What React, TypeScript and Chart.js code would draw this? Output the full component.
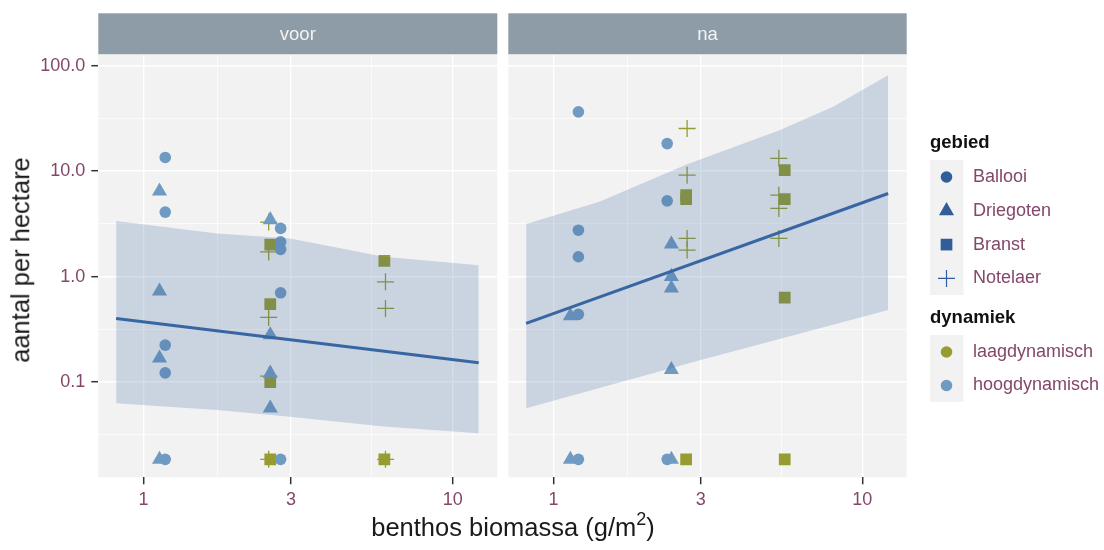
import React, { useEffect, useRef } from 'react';
import { Chart, registerables } from 'chart.js';

Chart.register(...registerables);

const FONT = "'Liberation Sans', Arial, Helvetica, sans-serif";

// Facet titles
const facetLabels = ['voor', 'na'];

// Axis breaks and limits (log10 axes)
const xMajor = [1, 3, 10];
const xMinor = [1.74, 5.48];
const yMajor = [0.1, 1, 10, 100];
const yMajorLabels = ['0.1', '1.0', '10.0', '100.0'];
const yMinor = [0.0316, 0.316, 3.16, 31.6];
const xLimits = [0.7145, 13.93];
const yLimits = [0.0125, 125.9];

// Legend entries
const gebiedLabels = ['Ballooi', 'Driegoten', 'Branst', 'Notelaer'];
const dynamiekLabels = ['laagdynamisch', 'hoogdynamisch'];

// Observations, period "voor"
const voorBallooiX = [1.176, 1.176, 1.176, 1.176, 1.176, 2.776, 2.776, 2.776, 2.776, 2.776];
const voorBallooiY = [13.45, 4.08, 0.224, 0.122, 0.0185, 2.86, 2.13, 1.81, 0.701, 0.0185];
const voorDriegotenX = [1.127, 1.127, 1.127, 1.127, 2.57, 2.57, 2.57, 2.57];
const voorDriegotenY = [6.44, 0.728, 0.168, 0.0185, 3.45, 0.28, 0.121, 0.0565];
const voorBranstX = [2.57, 2.57, 2.57, 2.57, 6.01, 6.01];
const voorBranstY = [2.01, 0.548, 0.1, 0.0185, 1.41, 0.0185];
const voorNotelaerX = [2.54, 2.54, 2.54, 2.54, 2.54, 6.06, 6.06, 6.06];
const voorNotelaerY = [3.28, 1.71, 0.41, 0.114, 0.0185, 0.891, 0.499, 0.0185];

// Observations, period "na"
const naBallooiX = [1.205, 1.205, 1.205, 1.205, 1.205, 2.336, 2.336, 2.336];
const naBallooiY = [36.4, 2.75, 1.54, 0.438, 0.0185, 18.2, 5.22, 0.0185];
const naDriegotenX = [1.135, 1.135, 2.41, 2.41, 2.41, 2.41, 2.41];
const naDriegotenY = [0.424, 0.0185, 2.03, 1.0, 0.774, 0.131, 0.0185];
const naBranstX = [2.69, 2.69, 2.69, 5.61, 5.61, 5.61, 5.61];
const naBranstY = [5.91, 5.42, 0.0185, 10.2, 5.42, 0.63, 0.0185];
const naNotelaerX = [2.71, 2.71, 2.71, 2.71, 5.37, 5.37, 5.37, 5.37];
const naNotelaerY = [25.3, 9.14, 2.3, 1.78, 13.2, 5.91, 4.42, 2.3];

// Fitted trend with confidence band
const fitX = [0.816, 12.13];
const voorFitY = [0.401, 0.1525];
const naFitY = [0.36, 6.13];
const voorBandUpperX = [0.816, 1.73, 2.98, 5.98, 12.13];
const voorBandUpperY = [3.37, 2.56, 2.3, 1.54, 1.28];
const voorBandLowerX = [0.816, 1.73, 2.98, 5.98, 12.13];
const voorBandLowerY = [0.0628, 0.0543, 0.0469, 0.0378, 0.0327];
const naBandUpperX = [0.816, 1.41, 2.71, 5.4, 8.04, 12.13];
const naBandUpperY = [3.14, 5.11, 11.6, 24.4, 40.6, 80.9];
const naBandLowerX = [0.816, 3.0, 12.13];
const naBandLowerY = [0.0564, 0.1616, 0.481];

// Colours
const LAAG = '#979C31';
const HOOG = '#6F9BC2';
const FIT = '#3766A3';
const BAND = 'rgba(58,100,160,0.22)';
const KEY = '#2F5E99';
const LABEL = '#84466A';
const PANEL = '#F2F2F2';
const STRIP = '#8D9CA7';

const pts = (xs: number[], ys: number[]) => xs.map((x, i) => ({ x, y: ys[i] }));

const markerStyle: Record<string, any> = {
  Ballooi: { pointStyle: 'circle', pointRadius: 5.8, borderWidth: 0 },
  Driegoten: { pointStyle: 'triangle', pointRadius: 8.7, borderWidth: 0 },
  Branst: { pointStyle: 'rect', pointRadius: 8.3, borderWidth: 0 },
  Notelaer: { pointStyle: 'cross', pointRadius: 8.5, borderWidth: 1.3 },
};
const gebiedColour: Record<string, string> = {
  Ballooi: HOOG,
  Driegoten: HOOG,
  Branst: LAAG,
  Notelaer: LAAG,
};

function drawMarker(ctx: CanvasRenderingContext2D, kind: string, x: number, y: number, colour: string) {
  ctx.save();
  ctx.fillStyle = colour;
  ctx.strokeStyle = colour;
  ctx.beginPath();
  if (kind === 'circle') {
    ctx.arc(x, y, 5.8, 0, Math.PI * 2);
    ctx.fill();
  } else if (kind === 'triangle') {
    const r = 8.7;
    ctx.moveTo(x, y - r);
    ctx.lineTo(x + r * Math.sin((2 * Math.PI) / 3), y - r * Math.cos((2 * Math.PI) / 3));
    ctx.lineTo(x + r * Math.sin((4 * Math.PI) / 3), y - r * Math.cos((4 * Math.PI) / 3));
    ctx.closePath();
    ctx.fill();
  } else if (kind === 'rect') {
    ctx.rect(x - 5.85, y - 5.85, 11.7, 11.7);
    ctx.fill();
  } else {
    ctx.lineWidth = 1.2;
    ctx.moveTo(x - 8.5, y);
    ctx.lineTo(x + 8.5, y);
    ctx.moveTo(x, y - 8.5);
    ctx.lineTo(x, y + 8.5);
    ctx.stroke();
  }
  ctx.restore();
}

const panelPlugin = {
  id: 'facetPanel',
  beforeDraw(chart: any, _args: any, opts: any) {
    const { ctx, chartArea: a } = chart;
    ctx.save();
    ctx.fillStyle = PANEL;
    ctx.fillRect(a.left, a.top, a.right - a.left, a.bottom - a.top);
    ctx.fillStyle = STRIP;
    ctx.fillRect(a.left, 13.3, a.right - a.left, a.top - 13.3 - 0.7);
    ctx.fillStyle = '#F3F3F3';
    ctx.font = `18.5px ${FONT}`;
    ctx.textAlign = 'center';
    ctx.textBaseline = 'middle';
    ctx.fillText(opts.label, (a.left + a.right) / 2, 35);
    ctx.restore();
  },
};

const legendPlugin = {
  id: 'guideLegend',
  afterDraw(chart: any) {
    const ctx: CanvasRenderingContext2D = chart.ctx;
    const kinds = ['circle', 'triangle', 'rect', 'cross'];
    ctx.save();
    ctx.textAlign = 'left';
    ctx.textBaseline = 'middle';
    ctx.fillStyle = '#111111';
    ctx.font = `bold 18.5px ${FONT}`;
    ctx.fillText('gebied', 930, 143);
    ctx.fillText('dynamiek', 930, 318);
    ctx.fillStyle = PANEL;
    ctx.fillRect(930, 160, 33.5, 135);
    ctx.fillRect(930, 335, 33.5, 67);
    ctx.font = `18px ${FONT}`;
    gebiedLabels.forEach((lab, i) => {
      const y = 177 + i * 33.8;
      drawMarker(ctx, kinds[i], 946.5, y, KEY);
      ctx.fillStyle = LABEL;
      ctx.fillText(lab, 973, y);
    });
    dynamiekLabels.forEach((lab, i) => {
      const y = 352 + i * 33.5;
      drawMarker(ctx, 'circle', 946.5, y, i === 0 ? LAAG : HOOG);
      ctx.fillStyle = LABEL;
      ctx.fillText(lab, 973, y);
    });
    ctx.restore();
  },
};

type PanelData = {
  label: string;
  series: Record<string, [number[], number[]]>;
  fitY: number[];
  upper: [number[], number[]];
  lower: [number[], number[]];
};

const panels: PanelData[] = [
  {
    label: facetLabels[0],
    series: {
      Ballooi: [voorBallooiX, voorBallooiY],
      Driegoten: [voorDriegotenX, voorDriegotenY],
      Branst: [voorBranstX, voorBranstY],
      Notelaer: [voorNotelaerX, voorNotelaerY],
    },
    fitY: voorFitY,
    upper: [voorBandUpperX, voorBandUpperY],
    lower: [voorBandLowerX, voorBandLowerY],
  },
  {
    label: facetLabels[1],
    series: {
      Ballooi: [naBallooiX, naBallooiY],
      Driegoten: [naDriegotenX, naDriegotenY],
      Branst: [naBranstX, naBranstY],
      Notelaer: [naNotelaerX, naNotelaerY],
    },
    fitY: naFitY,
    upper: [naBandUpperX, naBandUpperY],
    lower: [naBandLowerX, naBandLowerY],
  },
];

function buildConfig(index: number): any {
  const p = panels[index];
  const isLeft = index === 0;
  const datasets: any[] = [
    {
      type: 'line',
      data: pts(fitX, p.fitY),
      borderColor: FIT,
      borderWidth: 3,
      pointRadius: 0,
      fill: false,
      order: 0,
    },
    {
      type: 'line',
      data: pts(p.upper[0], p.upper[1]),
      borderColor: 'transparent',
      borderWidth: 0,
      backgroundColor: BAND,
      pointRadius: 0,
      fill: '+1',
      order: 1,
    },
    {
      type: 'line',
      data: pts(p.lower[0], p.lower[1]),
      borderColor: 'transparent',
      borderWidth: 0,
      pointRadius: 0,
      fill: false,
      order: 2,
    },
  ];
  gebiedLabels.forEach((g, i) => {
    const [xs, ys] = p.series[g];
    const colour = gebiedColour[g];
    datasets.push({
      type: 'scatter',
      label: g,
      data: pts(xs, ys),
      backgroundColor: colour,
      borderColor: colour,
      ...markerStyle[g],
      order: 3 + i,
    });
  });

  const xTickValues = [...xMajor, ...xMinor].sort((a, b) => a - b);
  const yTickValues = [...yMajor, ...yMinor].sort((a, b) => a - b);

  return {
    type: 'scatter',
    data: { datasets },
    plugins: isLeft ? [panelPlugin] : [panelPlugin, legendPlugin],
    options: {
      animation: false,
      responsive: false,
      devicePixelRatio: 1,
      events: [],
      layout: {
        padding: isLeft
          ? { left: 0, right: 1104 - 497.3, top: 55, bottom: 0 }
          : { left: 508.3, right: 1104 - 906.7, top: 55, bottom: 0 },
      },
      plugins: {
        legend: { display: false },
        tooltip: { enabled: false },
        facetPanel: { label: p.label },
      },
      scales: {
        x: {
          type: 'logarithmic',
          position: 'bottom',
          min: xLimits[0],
          max: xLimits[1],
          bounds: 'data',
          afterBuildTicks: (s: any) => {
            s.ticks = xTickValues.map((v) => ({ value: v }));
          },
          afterFit: (s: any) => {
            s.height = 550 - 477.3;
          },
          border: { display: false },
          grid: {
            color: '#FFFFFF',
            lineWidth: (c: any) => (xMajor.includes(c.tick?.value) ? 1.4 : 0.7),
            tickColor: (c: any) => (xMajor.includes(c.tick?.value) ? '#333333' : 'rgba(0,0,0,0)'),
            tickWidth: 1.5,
            tickLength: 7,
          },
          ticks: {
            autoSkip: false,
            maxRotation: 0,
            padding: 5,
            color: LABEL,
            font: { family: FONT, size: 18 },
            callback: (v: any) => (xMajor.includes(v) ? String(v) : ''),
          },
        },
        y: {
          type: 'logarithmic',
          position: 'left',
          min: yLimits[0],
          max: yLimits[1],
          bounds: 'data',
          afterBuildTicks: (s: any) => {
            s.ticks = yTickValues.map((v) => ({ value: v }));
          },
          afterFit: (s: any) => {
            s.width = isLeft ? 98.3 : 0;
          },
          border: { display: false },
          grid: {
            color: '#FFFFFF',
            lineWidth: (c: any) => (yMajor.includes(c.tick?.value) ? 1.4 : 0.7),
            tickColor: (c: any) => (isLeft && yMajor.includes(c.tick?.value) ? '#333333' : 'rgba(0,0,0,0)'),
            tickWidth: 1.5,
            tickLength: 7,
            drawTicks: isLeft,
          },
          ticks: {
            display: isLeft,
            autoSkip: false,
            padding: 6,
            color: LABEL,
            font: { family: FONT, size: 18 },
            callback: (v: any) => {
              const k = yMajor.indexOf(v);
              return k >= 0 ? yMajorLabels[k] : '';
            },
          },
        },
      },
    },
  };
}

export default function App() {
  const leftRef = useRef<HTMLCanvasElement>(null);
  const rightRef = useRef<HTMLCanvasElement>(null);

  useEffect(() => {
    const left = new Chart(leftRef.current as HTMLCanvasElement, buildConfig(0));
    const right = new Chart(rightRef.current as HTMLCanvasElement, buildConfig(1));
    return () => {
      left.destroy();
      right.destroy();
    };
  }, []);

  const canvasStyle: React.CSSProperties = { position: 'absolute', left: 0, top: 0, width: 1104, height: 550 };

  return (
    <div
      style={{
        position: 'absolute',
        left: 0,
        top: 0,
        width: 1104,
        height: 550,
        background: '#FFFFFF',
        fontFamily: FONT,
        overflow: 'hidden',
      }}
    >
      <canvas ref={leftRef} width={1104} height={550} style={canvasStyle} />
      <canvas ref={rightRef} width={1104} height={550} style={canvasStyle} />
      <div
        style={{
          position: 'absolute',
          left: 21,
          top: 260,
          transform: 'translate(-50%, -50%) rotate(-90deg)',
          whiteSpace: 'nowrap',
          fontSize: 25.5,
          lineHeight: '25.5px',
          color: '#1A1A1A',
        }}
      >
        aantal per hectare
      </div>
      <div
        style={{
          position: 'absolute',
          left: 0,
          width: 1026,
          top: 515,
          textAlign: 'center',
          whiteSpace: 'nowrap',
          fontSize: 25.5,
          lineHeight: '25.5px',
          color: '#1A1A1A',
        }}
      >
        benthos biomassa (g/m
        <span style={{ fontSize: 18, position: 'relative', top: -11 }}>2</span>)
      </div>
    </div>
  );
}
